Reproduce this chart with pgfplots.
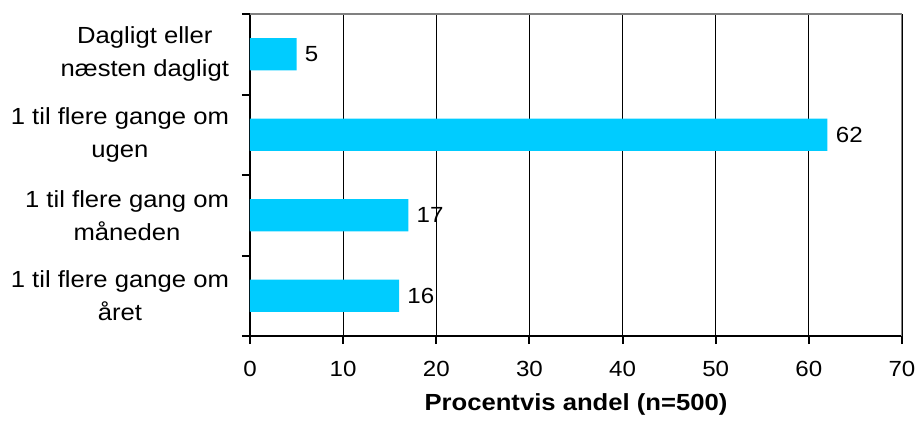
\documentclass[border=0pt]{standalone}
\usepackage{pgfplots}
\pgfplotsset{compat=1.18}
\usepackage{fontspec}
\setmainfont[FakeStretch=1.1]{Liberation Sans}
\definecolor{barc}{HTML}{00CCFF}
\begin{document}
\begin{tikzpicture}
\useasboundingbox (-125bp,-42.5bp) rectangle (334bp,168bp);
\begin{axis}[
 at={(0,0)}, anchor=south west,
 scale only axis, width=326bp, height=161bp,
 xbar, bar width=0.4,
 xmin=0, xmax=70, ymin=-0.5, ymax=3.5,
 xtick={0,10,...,70},
 ytick={0,1,2,3},
 yticklabels={{1 til flere gange om\\året},{1 til flere gang om\\måneden},{1 til flere gange om\\ugen},{Dagligt eller\\næsten dagligt}},
 minor ytick={-0.5,0.5,1.5,2.5,3.5},
 axis x line*=bottom, axis y line*=left,
 axis line style={line width=1bp, -},
 xmajorgrids, major x grid style={black, line width=0.6bp},
 tick align=outside,
 major tick length=4bp, minor tick length=4bp,
 major y tick style={draw=none},
 minor y tick style={black, line width=1bp},
 major x tick style={black, line width=1bp},
 /pgf/number format/assume math mode=true,
 xticklabel style={font=\fontsize{11}{13}\selectfont, anchor=center, yshift=-12.5bp},
 yticklabel style={font=\fontsize{11.7}{16.5}\selectfont, align=center, xshift=-3bp},
 nodes near coords,
 nodes near coords style={font=\fontsize{11}{13}\selectfont, anchor=west, inner sep=0pt, xshift=4bp},
 xlabel={Procentvis andel (n=500)},
 xlabel style={font=\fontsize{11.7}{14}\selectfont\bfseries, at={(axis description cs:0.5,0)}, anchor=center, yshift=-34bp},
]
\addplot[fill=barc, draw=none] coordinates {(16,0) (17,1) (62,2) (5,3)};
\draw[gray, line width=1.2bp] (rel axis cs:0,1) -- (rel axis cs:1,1) -- (rel axis cs:1,0);
\end{axis}
\end{tikzpicture}
\end{document}
